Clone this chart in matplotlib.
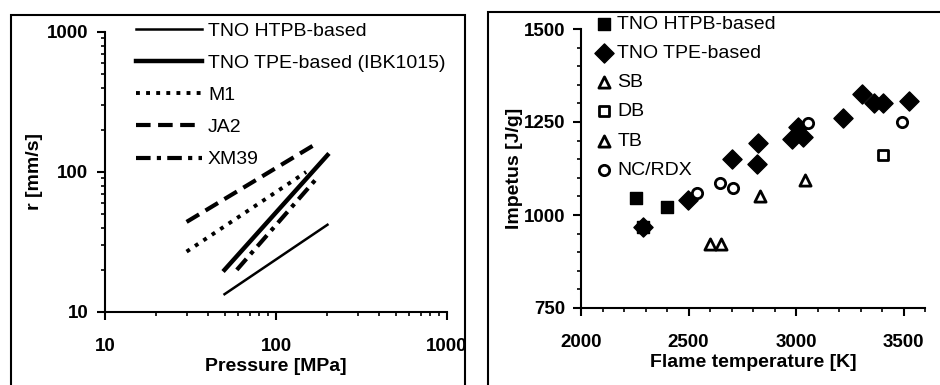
# burning rate vs pressure and impetus vs flame temperature

import numpy as np
import matplotlib.pyplot as plt
from matplotlib.patches import Rectangle
from matplotlib.ticker import FixedLocator, NullFormatter, MultipleLocator

plt.rcParams['font.family'] = ['Liberation Sans', 'DejaVu Sans']

# left panel: burning rate lines (pressure MPa, rate mm/s)
p_htpb = [50, 200]
r_htpb = [13.4, 42]
p_tpe = [50, 200]
r_tpe = [20, 132]
p_m1 = [30, 150]
r_m1 = [27, 100]
p_ja2 = [30, 173]
r_ja2 = [44, 160]
p_xm39 = [59, 173]
r_xm39 = [20, 90]

# right panel: impetus vs flame temperature
t_htpb = [2256, 2400, 2290]
i_htpb = [1047, 1022, 968]
t_tpe = [2287, 2497, 2703, 2823, 2818, 2983, 3009, 3033, 3219, 3309, 3362, 3405, 3527]
i_tpe = [969, 1040, 1150, 1193, 1137, 1203, 1237, 1211, 1260, 1324, 1300, 1302, 1307]
t_sb = [2598, 2652]
i_sb = [922, 922]
t_db = [3405]
i_db = [1161]
t_tb = [2831, 3040]
i_tb = [1051, 1094]
t_ncrdx = [2540, 2648, 2707, 3056, 3491]
i_ncrdx = [1060, 1087, 1072, 1246, 1249]

W, H = 940, 385
fig = plt.figure(figsize=(W / 100, H / 100), dpi=100)

def fx(px):
    return px / W

def fy(py):
    return 1 - py / H

# panel frames
fig.add_artist(Rectangle((fx(11), fy(395)), fx(454), (395 - 15) / H,
                         transform=fig.transFigure, fill=False, lw=1.5, ec='black'))
fig.add_artist(Rectangle((fx(488), fy(395)), fx(470), (395 - 12) / H,
                         transform=fig.transFigure, fill=False, lw=1.5, ec='black'))

tick_font = dict(fontsize=13.5, fontweight='bold')
lab_font = dict(fontsize=14, fontweight='bold')

# ---- left
ax1 = fig.add_axes([fx(105), fy(312), fx(447 - 105), (312 - 32) / H])
ax1.plot(p_htpb, r_htpb, color='black', lw=1.8, label='TNO HTPB-based')
ax1.plot(p_tpe, r_tpe, color='black', lw=3.2, label='TNO TPE-based (IBK1015)')
ax1.plot(p_m1, r_m1, color='black', lw=2.8, ls=(0, (1, 1.6)), label='M1')
ax1.plot(p_ja2, r_ja2, color='black', lw=3, ls=(0, (3.5, 1.8)), label='JA2')
ax1.plot(p_xm39, r_xm39, color='black', lw=3, ls=(0, (3.5, 1.5, 1, 1.5)), label='XM39')
ax1.set_xscale('log')
ax1.set_yscale('log')
ax1.set_xlim(10, 1000)
ax1.set_ylim(10, 1000)
ax1.xaxis.set_major_locator(FixedLocator([10, 100, 1000]))
ax1.yaxis.set_major_locator(FixedLocator([10, 100, 1000]))
ax1.set_xticklabels(['10', '100', '1000'], **tick_font)
ax1.set_yticklabels(['10', '100', '1000'], **tick_font)
ax1.xaxis.set_minor_formatter(NullFormatter())
ax1.yaxis.set_minor_formatter(NullFormatter())
ax1.tick_params(which='major', length=6, width=1.5, direction='out')
ax1.tick_params(which='minor', length=3, width=1.2, direction='out')
ax1.tick_params(axis='x', pad=13)
ax1.tick_params(axis='y', pad=6)
ax1.set_xlabel('Pressure [MPa]', labelpad=2, **lab_font)
ax1.set_ylabel('r [mm/s]', labelpad=3, **lab_font)
for s in ['top', 'right']:
    ax1.spines[s].set_visible(False)
for s in ['left', 'bottom']:
    ax1.spines[s].set_linewidth(1.5)
ax1.legend(loc='upper left', bbox_to_anchor=(fx(136), fy(22)),
           bbox_transform=fig.transFigure, frameon=False, fontsize=14,
           handlelength=3.4, handletextpad=0.3, labelspacing=0.75,
           borderpad=0, borderaxespad=0)

# ---- right
ax2 = fig.add_axes([fx(581), fy(308), fx(925 - 581), (308 - 29) / H])
ax2.scatter(t_htpb, i_htpb, marker='s', s=85, c='black', label='TNO HTPB-based', zorder=3)
ax2.scatter(t_tpe, i_tpe, marker='D', s=95, c='black', label='TNO TPE-based', zorder=3)
ax2.scatter(t_sb, i_sb, marker='^', s=65, facecolors='white', edgecolors='black',
            linewidths=2, label='SB', zorder=3)
ax2.scatter(t_db, i_db, marker='s', s=60, facecolors='white', edgecolors='black',
            linewidths=2, label='DB', zorder=3)
ax2.scatter(t_tb, i_tb, marker='^', s=65, facecolors='white', edgecolors='black',
            linewidths=2, label='TB', zorder=3)
ax2.scatter(t_ncrdx, i_ncrdx, marker='o', s=55, facecolors='white', edgecolors='black',
            linewidths=2, label='NC/RDX', zorder=3)
ax2.set_xlim(2000, 3600)
ax2.set_ylim(750, 1500)
ax2.xaxis.set_major_locator(FixedLocator([2000, 2500, 3000, 3500]))
ax2.xaxis.set_minor_locator(MultipleLocator(100))
ax2.yaxis.set_major_locator(FixedLocator([750, 1000, 1250, 1500]))
ax2.yaxis.set_minor_locator(MultipleLocator(50))
ax2.set_xticklabels(['2000', '2500', '3000', '3500'], **tick_font)
ax2.set_yticklabels(['750', '1000', '1250', '1500'], **tick_font)
ax2.tick_params(which='major', length=6, width=1.5, direction='out')
ax2.tick_params(which='minor', length=3, width=1.2, direction='out')
ax2.tick_params(axis='x', pad=13)
ax2.tick_params(axis='y', pad=5)
ax2.set_xlabel('Flame temperature [K]', labelpad=2, **lab_font)
ax2.set_ylabel('Impetus [J/g]', labelpad=1, **lab_font)
for s in ['top', 'right']:
    ax2.spines[s].set_visible(False)
for s in ['left', 'bottom']:
    ax2.spines[s].set_linewidth(1.5)
ax2.legend(loc='upper left', bbox_to_anchor=(fx(596), fy(15)),
           bbox_transform=fig.transFigure, frameon=False, fontsize=14,
           handlelength=0.8, handletextpad=0.3, labelspacing=0.6,
           borderpad=0, borderaxespad=0, scatterpoints=1)

fig.savefig('out.png', dpi=100)
